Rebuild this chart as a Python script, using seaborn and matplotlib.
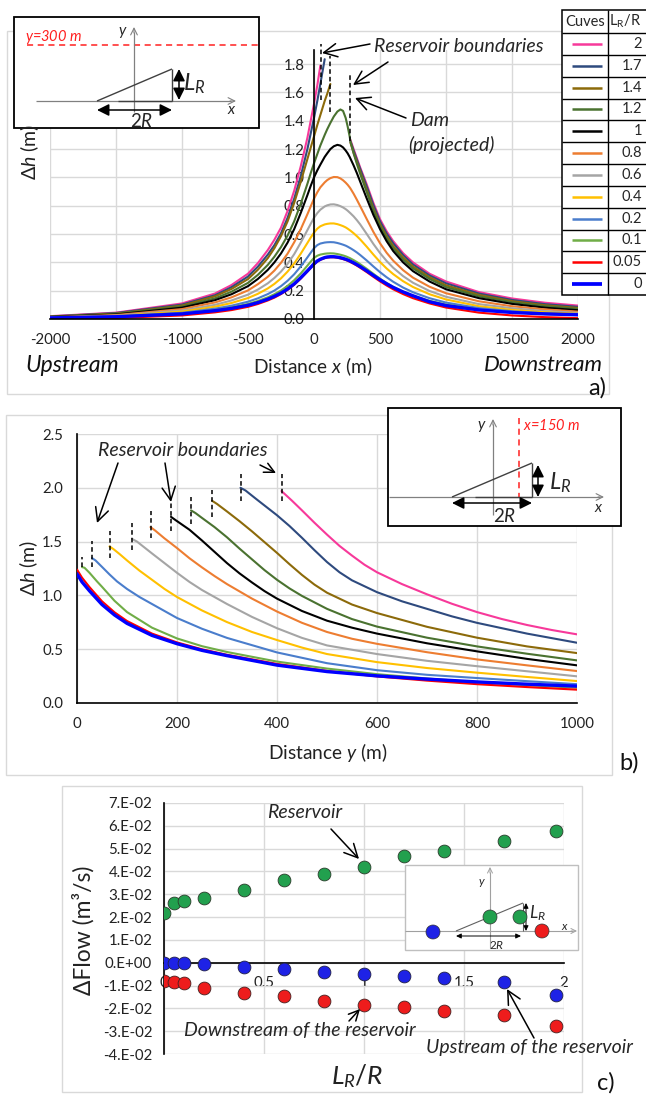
import numpy as np
import pandas as pd
import matplotlib
matplotlib.use("Agg")
import matplotlib.pyplot as plt
from matplotlib.patches import Rectangle, Circle
from matplotlib.ticker import MultipleLocator, FormatStrFormatter
import seaborn as sns

# ---------------------------------------------------------------------------
# Curve families (L_R / R) and their colours
# ---------------------------------------------------------------------------
RATIOS = ["2", "1.7", "1.4", "1.2", "1", "0.8", "0.6", "0.4", "0.2", "0.1", "0.05", "0"]
COLORS = ["#F7399A", "#2E4A7E", "#8C6A0A", "#4A7230", "#000000", "#ED7D31",
          "#A5A5A5", "#FFC000", "#4A7DCC", "#70AD47", "#FF0000", "#0000FF"]
WIDTHS = [1.5] * 11 + [2.4]

# ---------------------------------------------------------------------------
# a) head change along the line y = 300 m   (None = inside the reservoir)
# ---------------------------------------------------------------------------
A_X = [-2000, -1500, -1000, -750, -625, -500, -425, -350, -300, -250, -200, -150, -100, -50, -25,
       0, 25, 48, 81, 100, 124, 150, 177, 200, 220, 240, 255, 270, 276, 300,
       325, 350, 400, 450, 500, 550, 600, 675, 750, 875, 1000, 1250, 1500, 1750, 2000]
N = None
A_DH_2 = [0.020, 0.045, 0.110, 0.180, 0.240, 0.320, 0.395, 0.487, 0.560, 0.645, 0.764, 0.906, 1.080, 1.280, 1.400,
          1.520, 1.650, 1.790, N, N, N, N, N, N, N, N, N, N, 1.265, 1.200,
          1.135, 1.070, 0.950, 0.820, 0.705, 0.620, 0.550, 0.465, 0.400, 0.320, 0.265, 0.190, 0.145, 0.115, 0.095]
A_DH_1_7 = [0.018, 0.042, 0.102, 0.168, 0.225, 0.300, 0.370, 0.455, 0.522, 0.605, 0.715, 0.850, 1.010, 1.200, 1.310,
            1.420, 1.540, 1.660, 1.835, N, N, N, N, N, N, N, N, N, 1.255, 1.190,
            1.125, 1.060, 0.935, 0.805, 0.690, 0.605, 0.535, 0.452, 0.385, 0.308, 0.252, 0.180, 0.135, 0.105, 0.086]
A_DH_1_4 = [0.016, 0.038, 0.095, 0.160, 0.212, 0.282, 0.348, 0.430, 0.500, 0.585, 0.690, 0.820, 0.970, 1.130, 1.210,
            1.290, 1.370, 1.440, 1.540, 1.590, 1.660, N, N, N, N, N, N, N, 1.245, 1.175,
            1.108, 1.040, 0.910, 0.780, 0.670, 0.585, 0.515, 0.435, 0.370, 0.295, 0.238, 0.170, 0.126, 0.097, 0.078]
A_DH_1_2 = [0.015, 0.035, 0.088, 0.146, 0.193, 0.255, 0.312, 0.382, 0.440, 0.508, 0.590, 0.690, 0.815, 0.955, 1.030,
            1.100, 1.165, 1.225, 1.300, 1.340, 1.385, 1.430, 1.465, 1.480, 1.470, 1.420, 1.360, 1.290, 1.255, 1.170,
            1.095, 1.025, 0.895, 0.765, 0.655, 0.570, 0.500, 0.420, 0.357, 0.283, 0.226, 0.160, 0.118, 0.090, 0.071]
A_DH_1 = [0.014, 0.032, 0.080, 0.133, 0.175, 0.232, 0.283, 0.347, 0.400, 0.463, 0.540, 0.635, 0.750, 0.875, 0.940,
          1.000, 1.050, 1.090, 1.145, 1.170, 1.200, 1.220, 1.230, 1.225, 1.212, 1.190, 1.170, 1.145, 1.133, 1.085,
          1.030, 0.970, 0.850, 0.735, 0.635, 0.550, 0.480, 0.400, 0.338, 0.265, 0.210, 0.147, 0.107, 0.080, 0.062]
A_DH_0_8 = [0.012, 0.028, 0.070, 0.117, 0.153, 0.202, 0.246, 0.298, 0.342, 0.397, 0.462, 0.542, 0.635, 0.740, 0.795,
            0.850, 0.895, 0.930, 0.965, 0.981, 0.995, 1.003, 1.002, 0.993, 0.980, 0.963, 0.948, 0.930, 0.922, 0.885,
            0.842, 0.797, 0.705, 0.615, 0.535, 0.468, 0.412, 0.345, 0.292, 0.228, 0.182, 0.125, 0.090, 0.068, 0.052]
A_DH_0_6 = [0.010, 0.024, 0.060, 0.100, 0.131, 0.172, 0.208, 0.252, 0.290, 0.335, 0.390, 0.458, 0.540, 0.628, 0.672,
            0.715, 0.748, 0.772, 0.795, 0.803, 0.809, 0.810, 0.805, 0.797, 0.788, 0.776, 0.765, 0.752, 0.747, 0.725,
            0.698, 0.668, 0.600, 0.530, 0.466, 0.410, 0.362, 0.303, 0.256, 0.198, 0.157, 0.105, 0.076, 0.056, 0.043]
A_DH_0_4 = [0.009, 0.021, 0.052, 0.087, 0.113, 0.148, 0.178, 0.216, 0.248, 0.287, 0.335, 0.392, 0.462, 0.537, 0.575,
            0.610, 0.638, 0.655, 0.668, 0.672, 0.675, 0.675, 0.670, 0.663, 0.656, 0.647, 0.638, 0.628, 0.624, 0.606,
            0.585, 0.562, 0.510, 0.455, 0.403, 0.357, 0.317, 0.267, 0.226, 0.175, 0.138, 0.090, 0.064, 0.047, 0.036]
A_DH_0_2 = [0.008, 0.018, 0.044, 0.073, 0.094, 0.122, 0.146, 0.176, 0.201, 0.232, 0.270, 0.316, 0.372, 0.435, 0.468,
            0.500, 0.522, 0.533, 0.540, 0.542, 0.543, 0.542, 0.537, 0.531, 0.525, 0.518, 0.511, 0.503, 0.500, 0.486,
            0.470, 0.452, 0.413, 0.371, 0.331, 0.295, 0.263, 0.222, 0.189, 0.147, 0.116, 0.077, 0.055, 0.040, 0.031]
A_DH_0_1 = [0.007, 0.016, 0.039, 0.064, 0.082, 0.106, 0.127, 0.153, 0.175, 0.201, 0.234, 0.274, 0.322, 0.377, 0.405,
            0.432, 0.447, 0.455, 0.461, 0.463, 0.464, 0.463, 0.459, 0.454, 0.449, 0.443, 0.437, 0.431, 0.428, 0.416,
            0.402, 0.387, 0.354, 0.319, 0.285, 0.254, 0.227, 0.192, 0.164, 0.128, 0.101, 0.067, 0.048, 0.035, 0.027]
A_DH_0_05 = [0.002, 0.007, 0.025, 0.047, 0.063, 0.086, 0.106, 0.131, 0.151, 0.176, 0.206, 0.242, 0.286, 0.335, 0.360,
             0.385, 0.405, 0.418, 0.430, 0.434, 0.436, 0.436, 0.433, 0.428, 0.423, 0.417, 0.411, 0.405, 0.402, 0.390,
             0.377, 0.362, 0.331, 0.298, 0.266, 0.237, 0.210, 0.176, 0.147, 0.110, 0.081, 0.045, 0.025, 0.013, 0.006]
A_DH_0 = [0.008, 0.016, 0.036, 0.059, 0.075, 0.097, 0.116, 0.140, 0.160, 0.183, 0.212, 0.248, 0.292, 0.340, 0.365,
          0.390, 0.410, 0.422, 0.434, 0.438, 0.440, 0.440, 0.437, 0.433, 0.428, 0.422, 0.417, 0.411, 0.408, 0.397,
          0.384, 0.370, 0.340, 0.308, 0.277, 0.249, 0.223, 0.191, 0.164, 0.122, 0.095, 0.064, 0.046, 0.036, 0.030]

# reservoir limits and projected dam drawn as dashed markers in a)
A_BOUND_X = [51, 124, 276]
A_BOUND_LO = [1.55, 1.46, 1.26]
A_BOUND_HI = [1.94, 1.86, 1.73]

# ---------------------------------------------------------------------------
# b) head change along the line x = 150 m, from the reservoir edge outwards
# ---------------------------------------------------------------------------
B_Y_2 = [409, 430, 450, 475, 500, 525, 550, 575, 600, 650, 700, 750, 800, 850, 900, 950, 1000]
B_DH_2 = [1.97, 1.88, 1.79, 1.675, 1.565, 1.46, 1.37, 1.285, 1.215, 1.105, 1.010, 0.922, 0.845, 0.78, 0.725, 0.678, 0.638]
B_Y_1_7 = [327, 337, 360, 400, 425, 450, 475, 500, 525, 550, 600, 650, 700, 750, 800, 900, 1000]
B_DH_1_7 = [2.00, 1.975, 1.89, 1.745, 1.645, 1.535, 1.42, 1.31, 1.215, 1.14, 1.03, 0.945, 0.875, 0.805, 0.745, 0.645, 0.56]
B_Y_1_4 = [270, 280, 300, 325, 350, 375, 400, 425, 450, 475, 500, 550, 600, 700, 800, 900, 1000]
B_DH_1_4 = [1.88, 1.85, 1.78, 1.69, 1.595, 1.495, 1.395, 1.29, 1.19, 1.10, 1.025, 0.915, 0.836, 0.708, 0.607, 0.526, 0.464]
B_Y_1_2 = [228, 237, 250, 275, 300, 325, 350, 375, 400, 425, 450, 500, 550, 600, 700, 800, 900, 1000]
B_DH_1_2 = [1.79, 1.765, 1.72, 1.635, 1.54, 1.435, 1.335, 1.235, 1.145, 1.065, 0.995, 0.875, 0.78, 0.71, 0.607, 0.526,
            0.458, 0.396]
B_Y_1 = [188, 197, 225, 250, 275, 300, 325, 350, 375, 400, 450, 500, 550, 600, 700, 800, 900, 1000]
B_DH_1 = [1.73, 1.70, 1.61, 1.51, 1.405, 1.30, 1.205, 1.12, 1.04, 0.97, 0.855, 0.765, 0.70, 0.645, 0.555, 0.48, 0.41, 0.35]
B_Y_0_8 = [147, 157, 175, 200, 225, 250, 275, 300, 350, 400, 450, 500, 550, 600, 700, 800, 900, 1000]
B_DH_0_8 = [1.635, 1.60, 1.53, 1.44, 1.345, 1.26, 1.18, 1.105, 0.97, 0.85, 0.745, 0.66, 0.597, 0.55, 0.472, 0.405, 0.35,
            0.297]
B_Y_0_6 = [110, 120, 135, 150, 175, 200, 225, 250, 300, 350, 400, 450, 500, 600, 700, 800, 900, 1000]
B_DH_0_6 = [1.525, 1.50, 1.445, 1.39, 1.30, 1.21, 1.125, 1.05, 0.92, 0.80, 0.695, 0.605, 0.535, 0.455, 0.392, 0.342,
            0.295, 0.248]
B_Y_0_4 = [65, 73, 85, 100, 125, 150, 175, 200, 250, 300, 350, 400, 450, 500, 600, 700, 800, 900, 1000]
B_DH_0_4 = [1.455, 1.43, 1.385, 1.325, 1.23, 1.145, 1.06, 0.985, 0.86, 0.752, 0.66, 0.585, 0.515, 0.455, 0.38, 0.325,
            0.282, 0.242, 0.204]
B_Y_0_2 = [30, 37, 50, 65, 80, 100, 125, 150, 200, 250, 300, 400, 500, 600, 700, 800, 900, 1000]
B_DH_0_2 = [1.347, 1.325, 1.265, 1.195, 1.13, 1.06, 0.985, 0.92, 0.79, 0.69, 0.605, 0.47, 0.37, 0.305, 0.262, 0.232,
            0.203, 0.175]
B_Y_0_1 = [10, 15, 25, 40, 50, 75, 100, 150, 200, 250, 300, 400, 500, 600, 700, 800, 900, 1000]
B_DH_0_1 = [1.263, 1.257, 1.21, 1.13, 1.08, 0.95, 0.845, 0.70, 0.60, 0.528, 0.474, 0.385, 0.32, 0.268, 0.228, 0.193,
            0.165, 0.142]
B_Y_0_05 = [0, 10, 25, 50, 75, 100, 150, 200, 250, 300, 400, 500, 600, 700, 800, 900, 1000]
B_DH_0_05 = [1.24, 1.165, 1.077, 0.945, 0.843, 0.762, 0.645, 0.563, 0.499, 0.448, 0.363, 0.298, 0.247, 0.208, 0.175,
             0.148, 0.124]
B_Y_0 = [0, 10, 25, 50, 75, 100, 150, 200, 250, 300, 400, 500, 600, 700, 800, 900, 1000]
B_DH_0 = [1.20, 1.125, 1.042, 0.915, 0.818, 0.740, 0.628, 0.551, 0.489, 0.440, 0.352, 0.292, 0.252, 0.222, 0.196,
          0.175, 0.157]

B_BOUND_Y = [9, 30, 65, 110, 147, 188, 228, 269, 327, 409]
B_BOUND_LO = [1.26, 1.26, 1.35, 1.42, 1.53, 1.60, 1.66, 1.73, 1.88, 1.88]
B_BOUND_HI = [1.36, 1.51, 1.60, 1.67, 1.78, 1.86, 1.91, 1.98, 2.13, 2.13]

# ---------------------------------------------------------------------------
# c) change in exchanged flow versus L_R / R
# ---------------------------------------------------------------------------
C_X = [0, 0.05, 0.1, 0.2, 0.4, 0.6, 0.8, 1.0, 1.2, 1.4, 1.7, 1.96]
C_RESERVOIR = [0.0220, 0.0260, 0.0272, 0.0283, 0.0320, 0.0362, 0.0390, 0.0421, 0.0467, 0.0489, 0.0533, 0.0578]
C_UPSTREAM = [-0.0001, 0.0000, -0.0001, -0.0007, -0.0019, -0.0028, -0.0040, -0.0050, -0.0058, -0.0068, -0.0083, -0.0140]
C_DOWNSTREAM = [-0.0080, -0.0083, -0.0088, -0.0112, -0.0131, -0.0146, -0.0169, -0.0186, -0.0193, -0.0210, -0.0231, -0.0278]
C_YTICKS = [0.07, 0.06, 0.05, 0.04, 0.03, 0.02, 0.01, 0.0, -0.01, -0.02, -0.03, -0.04]
C_YLABELS = ["7.E-02", "6.E-02", "5.E-02", "4.E-02", "3.E-02", "2.E-02", "1.E-02", "0.E+00",
             "-1.E-02", "-2.E-02", "-3.E-02", "-4.E-02"]

# ---------------------------------------------------------------------------
sns.set_theme(style="white")
plt.rcParams["font.family"] = ["Lato", "DejaVu Sans"]
plt.rcParams["mathtext.fontset"] = "custom"
plt.rcParams["mathtext.rm"] = "Lato"
plt.rcParams["mathtext.it"] = "Lato:italic"
plt.rcParams["mathtext.bf"] = "Lato:bold"
plt.rcParams["axes.unicode_minus"] = False

W, H = 646, 1097
fig = plt.figure(figsize=(W / 100, H / 100), dpi=100)
PALETTE = dict(zip(RATIOS, COLORS))
SIZES = dict(zip(RATIOS, WIDTHS))
GRID = "#D9D9D9"
TICK_FS = 10.8
NOTE_FS = 14


def ax_rect(x0, y0, x1, y1):
    """pixel box (top-left origin) -> figure fraction rectangle"""
    return [x0 / W, 1 - y1 / H, (x1 - x0) / W, (y1 - y0) / H]


def long_frame(xs_list, ys_list):
    rows, seg = [], 0
    for label, xs, ys in zip(RATIOS, xs_list, ys_list):
        seg += 1
        for x, y in zip(xs, ys):
            if y is None:
                seg += 1
                continue
            rows.append((label, seg, x, y))
    return pd.DataFrame(rows, columns=["curve", "seg", "x", "dh"])


def draw_family(ax, df):
    sns.lineplot(data=df, x="x", y="dh", hue="curve", hue_order=RATIOS, palette=PALETTE,
                 size="curve", size_order=RATIOS, sizes=SIZES, units="seg", estimator=None,
                 sort=False, legend=False, ax=ax, zorder=3)
    for ln in ax.get_lines():
        ln.set_solid_joinstyle("round")


# ------------------------------- panel a -----------------------------------
axa = fig.add_axes(ax_rect(50, 50, 578, 319))
dfa = long_frame([A_X] * 12,
                 [A_DH_2, A_DH_1_7, A_DH_1_4, A_DH_1_2, A_DH_1, A_DH_0_8, A_DH_0_6,
                  A_DH_0_4, A_DH_0_2, A_DH_0_1, A_DH_0_05, A_DH_0])
draw_family(axa, dfa)
axa.set_xlim(-2000, 2000)
axa.set_ylim(0, 1.9)
axa.xaxis.set_major_locator(MultipleLocator(500))
axa.xaxis.set_minor_locator(MultipleLocator(100))
axa.set_yticks(np.arange(0, 1.81, 0.2))
axa.yaxis.set_minor_locator(MultipleLocator(0.05))
axa.yaxis.set_major_formatter(FormatStrFormatter("%.1f"))
axa.spines["left"].set_position(("data", 0))
for s in ["top", "right"]:
    axa.spines[s].set_visible(False)
for s in ["left", "bottom"]:
    axa.spines[s].set_color("black")
    axa.spines[s].set_linewidth(1.2)
    axa.spines[s].set_zorder(4)
axa.grid(True, which="major", color=GRID, lw=1.0, zorder=0)
axa.tick_params(which="major", direction="inout", length=8, width=1.1, color="black",
                labelsize=TICK_FS, labelcolor="#222222")
axa.tick_params(which="minor", direction="inout", length=4, width=0.9, color="black")
axa.tick_params(axis="x", which="major", pad=6)
axa.tick_params(axis="y", which="major", pad=3)
axa.set_xlabel("")
axa.set_ylabel("")
for xb, lo, hi in zip(A_BOUND_X, A_BOUND_LO, A_BOUND_HI):
    axa.plot([xb, xb], [lo, hi], color="black", lw=1.1, ls=(0, (3, 2)), zorder=5, clip_on=False)
axa.patch.set_alpha(0)

# ------------------------------- panel b -----------------------------------
axb = fig.add_axes(ax_rect(77, 434, 577, 703))
dfb = long_frame([B_Y_2, B_Y_1_7, B_Y_1_4, B_Y_1_2, B_Y_1, B_Y_0_8, B_Y_0_6,
                  B_Y_0_4, B_Y_0_2, B_Y_0_1, B_Y_0_05, B_Y_0],
                 [B_DH_2, B_DH_1_7, B_DH_1_4, B_DH_1_2, B_DH_1, B_DH_0_8, B_DH_0_6,
                  B_DH_0_4, B_DH_0_2, B_DH_0_1, B_DH_0_05, B_DH_0])
draw_family(axb, dfb)
axb.set_xlim(0, 1000)
axb.set_ylim(0, 2.5)
axb.xaxis.set_major_locator(MultipleLocator(200))
axb.xaxis.set_minor_locator(MultipleLocator(50))
axb.yaxis.set_major_locator(MultipleLocator(0.5))
axb.yaxis.set_minor_locator(MultipleLocator(0.1))
axb.yaxis.set_major_formatter(FormatStrFormatter("%.1f"))
for s in ["top", "right"]:
    axb.spines[s].set_visible(False)
for s in ["left", "bottom"]:
    axb.spines[s].set_color("black")
    axb.spines[s].set_linewidth(1.2)
axb.grid(True, which="major", color=GRID, lw=1.0, zorder=0)
axb.tick_params(which="major", direction="out", length=5, width=1.1, color="black",
                labelsize=TICK_FS, labelcolor="#222222", pad=5)
axb.tick_params(which="minor", direction="in", length=3.5, width=0.9, color="black")
axb.set_xlabel("")
axb.set_ylabel("")
for yb, lo, hi in zip(B_BOUND_Y, B_BOUND_LO, B_BOUND_HI):
    axb.plot([yb, yb], [lo, hi], color="black", lw=1.1, ls=(0, (3, 2)), zorder=5)

# ------------------------------- panel c -----------------------------------
axc = fig.add_axes(ax_rect(164, 803, 564, 1054))
sns.scatterplot(x=C_X, y=C_RESERVOIR, color="#22A04E", s=85, edgecolor="#2b3b2b",
                linewidth=0.6, ax=axc, zorder=4)
sns.scatterplot(x=C_X, y=C_UPSTREAM, color="#1E22E6", s=85, edgecolor="#222244",
                linewidth=0.6, ax=axc, zorder=4)
sns.scatterplot(x=C_X, y=C_DOWNSTREAM, color="#EE1C1C", s=85, edgecolor="#442222",
                linewidth=0.6, ax=axc, zorder=4)
axc.set_xlim(0, 2)
axc.set_ylim(-0.04, 0.07)
axc.set_xticks([0, 0.5, 1, 1.5, 2], ["0", "0.5", "1", "1.5", "2"])
axc.xaxis.set_minor_locator(MultipleLocator(0.1))
axc.set_yticks(C_YTICKS, C_YLABELS)
axc.yaxis.set_minor_locator(MultipleLocator(0.002))
axc.spines["bottom"].set_position(("data", 0))
for s in ["top", "right"]:
    axc.spines[s].set_visible(False)
for s in ["left", "bottom"]:
    axc.spines[s].set_color("black")
    axc.spines[s].set_linewidth(1.2)
    axc.spines[s].set_zorder(3)
axc.grid(True, which="major", color=GRID, lw=1.0, zorder=0)
axc.tick_params(which="major", direction="inout", length=7, width=1.1, color="black",
                labelsize=TICK_FS, labelcolor="#222222")
axc.tick_params(which="minor", direction="inout", length=3.5, width=0.9, color="black")
axc.tick_params(axis="y", which="major", pad=5)
axc.tick_params(axis="x", which="major", pad=6)
axc.set_xlabel("")
axc.set_ylabel("")

# ------------------------------- overlay -----------------------------------
ov = fig.add_axes([0, 0, 1, 1])
ov.set_xlim(0, W)
ov.set_ylim(H, 0)
ov.axis("off")
ov.set_zorder(10)
ov.patch.set_alpha(0)

# outer panel frames
for (x0, y0, x1, y1) in [(7, 31, 609, 394), (6, 415, 612, 775), (62, 786, 582, 1092)]:
    ov.add_patch(Rectangle((x0, y0), x1 - x0, y1 - y0, fill=False, ec="#D9D9D9", lw=1.0))


def arrow(x0, y0, x1, y1, lw=1.1, head=8, color="black"):
    ov.annotate("", xy=(x1, y1), xytext=(x0, y0),
                arrowprops=dict(arrowstyle=f"->,head_length={head / 10:.2f},head_width={head / 20:.2f}",
                                color=color, lw=lw, shrinkA=0, shrinkB=0))


def darrow(x0, y0, x1, y1, lw=1.1, head=6):
    ov.annotate("", xy=(x1, y1), xytext=(x0, y0),
                arrowprops=dict(arrowstyle=f"<|-|>,head_length={head / 10:.2f},head_width={head / 20:.2f}",
                                color="black", lw=lw, shrinkA=0, shrinkB=0))


def gline(xs, ys, color="#808080", lw=0.9, **kw):
    ov.plot(xs, ys, color=color, lw=lw, solid_capstyle="butt", **kw)


# ---- panel a texts
ov.text(30, 152, "Δ$h$ (m)", rotation=90, ha="center", va="center", fontsize=14, color="#222222")
ov.text(313, 367, "Distance $x$ (m)", ha="center", va="center", fontsize=13.8, color="#222222")
ov.text(25, 366, "Upstream", ha="left", va="center", fontsize=16.5, style="italic", color="#111111")
ov.text(603, 365, "Downstream", ha="right", va="center", fontsize=16, style="italic", color="#111111")
ov.text(588, 388, "a)", ha="left", va="center", fontsize=17, color="#111111")
ov.text(374, 46, "Reservoir boundaries", ha="left", va="center", fontsize=NOTE_FS, style="italic")
arrow(370, 44, 322, 53)
arrow(388, 62, 353, 85)
ov.text(410, 121, "Dam", ha="left", va="center", fontsize=NOTE_FS, style="italic")
ov.text(408, 145, "(projected)", ha="left", va="center", fontsize=NOTE_FS, style="italic")
arrow(406, 118, 355, 98)

# ---- inset a
ov.add_patch(Rectangle((14, 17), 245, 111, fc="white", ec="black", lw=1.3))
gline([27, 258], [45, 45], color="#FF2020", lw=1.1, ls=(0, (4, 3)))
ov.text(25, 37, "$y$=300 m", ha="left", va="center", fontsize=10.5, style="italic", color="#FF2020")
gline([36, 231], [101, 101])
arrow(230, 101, 236, 101, lw=0.8, head=4, color="#808080")
gline([134, 134], [112, 32])
arrow(134, 33, 134, 27, lw=0.8, head=4, color="#808080")
ov.text(123, 33, "$y$", ha="center", va="center", fontsize=11)
ov.text(232, 110, "$x$", ha="center", va="center", fontsize=11)
gline([118, 172], [101, 101], color="#404040", lw=1.0)
gline([97, 172], [101, 69], color="#404040", lw=1.0)
gline([172, 172], [69, 101], color="#404040", lw=1.0)
darrow(179, 69, 179, 100)
ov.text(183, 84, "$L_R$", ha="left", va="center", fontsize=17)
darrow(97, 110, 172, 110)
ov.text(142, 121, "2$R$", ha="center", va="center", fontsize=13.5)

# ---- legend table
tx0, tx1, tx2 = 562, 608, 647
ty0, ty_head = 10, 33
row_h = (295 - ty_head) / len(RATIOS)
ov.add_patch(Rectangle((tx0, ty0), tx2 - tx0, 295 - ty0, fc="white", ec="black", lw=1.1))
gline([tx1, tx1], [ty0, 295], color="black", lw=1.0)
gline([tx0, tx2], [ty_head, ty_head], color="black", lw=1.0)
ov.text((tx0 + tx1) / 2, (ty0 + ty_head) / 2, "Cuves", ha="center", va="center", fontsize=10.5)
ov.text((tx1 + tx2) / 2 - 2, (ty0 + ty_head) / 2, r"L$_\mathregular{R}$/R", ha="center", va="center",
        fontsize=10.5)
for i, (lab, col, lw) in enumerate(zip(RATIOS, COLORS, WIDTHS)):
    yc = ty_head + (i + 0.5) * row_h
    if i > 0:
        gline([tx0, tx2], [ty_head + i * row_h] * 2, color="black", lw=1.0)
    gline([572, 602], [yc, yc], color=col, lw=lw + 0.3)
    ov.text(642, yc, lab, ha="right", va="center", fontsize=10.5)

# ---- panel b texts
ov.text(29, 568, "Δ$h$ (m)", rotation=90, ha="center", va="center", fontsize=14, color="#222222")
ov.text(328, 752, "Distance $y$ (m)", ha="center", va="center", fontsize=13.8, color="#222222")
ov.text(619, 763, "b)", ha="left", va="center", fontsize=17, color="#111111")
ov.text(98, 450, "Reservoir boundaries", ha="left", va="center", fontsize=NOTE_FS, style="italic")
arrow(118, 463, 97, 523)
arrow(165, 463, 171, 502)
arrow(260, 465, 276, 473, head=6)

# ---- inset b
ov.add_patch(Rectangle((388, 408), 233, 118, fc="white", ec="black", lw=1.3))
gline([389, 600], [497, 497])
arrow(598, 497, 604, 497, lw=0.8, head=4, color="#808080")
gline([493, 493], [515, 424])
arrow(493, 425, 493, 419, lw=0.8, head=4, color="#808080")
ov.text(482, 426, "$y$", ha="center", va="center", fontsize=11)
ov.text(599, 508, "$x$", ha="center", va="center", fontsize=11)
gline([519, 519], [418, 497], color="#FF2020", lw=1.1, ls=(0, (4, 3)))
ov.text(523, 425, "$x$=150 m", ha="left", va="center", fontsize=10.5, style="italic", color="#FF2020")
gline([475, 532], [497, 497], color="#404040", lw=1.0)
gline([452, 532], [497, 463], color="#404040", lw=1.0)
gline([532, 532], [463, 497], color="#404040", lw=1.0)
darrow(538, 465, 538, 497)
ov.text(549, 483, "$L_R$", ha="left", va="center", fontsize=17)
darrow(452, 503, 532, 503)
ov.text(505, 516, "2$R$", ha="center", va="center", fontsize=13.5)

# ---- panel c texts
ov.text(83, 930, "ΔFlow (m³/s)", rotation=90, ha="center", va="center", fontsize=16.5, color="#222222")
ov.text(357, 1076, "$L_R/R$", ha="center", va="center", fontsize=19, color="#222222")
ov.text(597, 1083, "c)", ha="left", va="center", fontsize=17, color="#111111")
ov.text(267, 813, "Reservoir", ha="left", va="center", fontsize=NOTE_FS, style="italic")
arrow(331, 829, 359, 859)
ov.text(184, 1031, "Downstream of the reservoir", ha="left", va="center", fontsize=NOTE_FS, style="italic")
arrow(349, 1021, 360, 1009, head=6)
ov.text(426, 1047, "Upstream of the reservoir", ha="left", va="center", fontsize=NOTE_FS, style="italic")
arrow(534, 1038, 507, 989)

# ---- inset c
ov.add_patch(Rectangle((405, 865), 173, 85, fc="white", ec="#BFBFBF", lw=1.0))
gline([405, 573], [931, 931], color="#A0A0A0", lw=0.8)
arrow(571, 931, 577, 931, lw=0.7, head=3, color="#A0A0A0")
gline([490, 490], [948, 872], color="#A0A0A0", lw=0.8)
arrow(490, 873, 490, 867, lw=0.7, head=3, color="#A0A0A0")
ov.text(482, 883, "$y$", ha="center", va="center", fontsize=8.5)
ov.text(565, 926, "$x$", ha="center", va="center", fontsize=8.5)
gline([456, 523], [931, 903], color="#606060", lw=0.8)
gline([523, 523], [903, 931], color="#606060", lw=0.8)
darrow(526, 903, 526, 931, lw=0.7, head=2.5)
ov.text(529, 913, "$L_R$", ha="left", va="center", fontsize=12.5)
darrow(456, 936, 521, 936, lw=0.7, head=2.5)
ov.text(497, 945, "2$R$", ha="center", va="center", fontsize=8.5)
for (cx, cy, col) in [(433, 932, "#1E22E6"), (490, 917, "#22A04E"),
                      (520, 917, "#22A04E"), (542, 931, "#EE1C1C")]:
    ov.add_patch(Circle((cx, cy), 7, fc=col, ec="#333333", lw=0.5, zorder=5))

fig.savefig("out.png", dpi=100)
